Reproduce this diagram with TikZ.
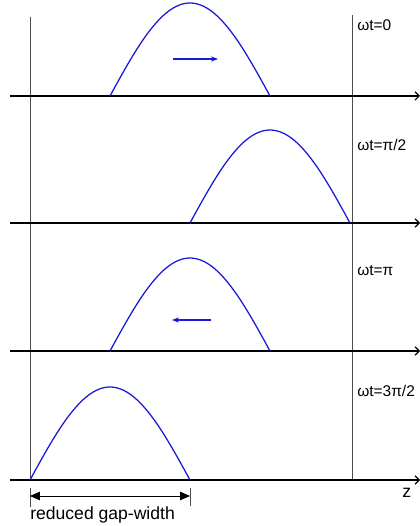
\documentclass[tikz,border=0pt]{standalone}
\usepackage{fontspec}
\setmainfont{Liberation Sans}
\usetikzlibrary{arrows.meta}
\definecolor{wave}{RGB}{25,25,215}
\tikzset{
    axis/.style={-{Straight Barb[length=3pt]}, line width=0.8pt},
    wall/.style={line width=0.5pt, black!70},
    hump/.style={wave, line width=0.9pt},
    drift/.style={-{Stealth[length=5pt]}, wave, line width=1.1pt},
    phase/.style={anchor=west, inner sep=0pt, font=\fontsize{11}{13}\selectfont},
    note/.style={anchor=west, inner sep=0pt, font=\fontsize{12.5}{14}\selectfont},
    gap/.style={{Triangle[length=7pt,width=6pt]}-{Triangle[length=7pt,width=6pt]},
                line width=0.6pt},
    ext/.style={line width=0.4pt, black!70},
}

\begin{document}
\begin{tikzpicture}

    \useasboundingbox (0,0) rectangle (10.5,13.15);

    % the two gap walls
    \coordinate (wallLtop) at (0.75,12.725);
    \coordinate (wallLbot) at (0.75,1.15);
    \coordinate (wallRtop) at (8.8,12.775);
    \coordinate (wallRbot) at (8.8,1.15);
    \draw[wall] (wallLtop) -- (wallLbot);
    \draw[wall] (wallRtop) -- (wallRbot);

    % z axes, one for each phase
    \coordinate (zeroS) at (0.25,10.75);    \coordinate (zeroE) at (10.5,10.75);
    \coordinate (halfS) at (0.25,7.575);    \coordinate (halfE) at (10.5,7.575);
    \coordinate (piS) at (0.25,4.375);      \coordinate (piE) at (10.5,4.375);
    \coordinate (threeS) at (0.25,1.15);    \coordinate (threeE) at (10.5,1.15);
    \draw[axis] (zeroS) -- (zeroE);
    \draw[axis] (halfS) -- (halfE);
    \draw[axis] (piS) -- (piE);
    \draw[axis] (threeS) -- (threeE);

    % field humps
    \draw[hump] plot[domain=0:4, samples=50] ({2.75+\x},{10.75+2.325*sin(45*\x)});
    \draw[hump] plot[domain=0:4, samples=50] ({4.75+\x},{7.575+2.325*sin(45*\x)});
    \draw[hump] plot[domain=0:4, samples=50] ({2.75+\x},{4.375+2.325*sin(45*\x)});
    \draw[hump] plot[domain=0:4, samples=50] ({0.75+\x},{1.15+2.325*sin(45*\x)});

    % direction of motion
    \coordinate (goA) at (4.325,11.675);
    \coordinate (goB) at (5.45,11.675);
    \coordinate (backA) at (5.275,5.15);
    \coordinate (backB) at (4.3,5.15);
    \draw[drift] (goA) -- (goB);
    \draw[drift] (backA) -- (backB);

    % phase labels
    \node[phase] (tZero) at (8.925,12.525) {ωt=0};
    \node[phase] (tHalf) at (8.925,9.525) {ωt=π/2};
    \node[phase] (tPi) at (8.925,6.375) {ωt=π};
    \node[phase] (tThree) at (8.925,3.375) {ωt=3π/2};
    \node[note] (zlabel) at (10.05,0.825) {z};

    % gap width
    \coordinate (gapLt) at (0.75,0.95);
    \coordinate (gapLb) at (0.75,0.475);
    \coordinate (gapRt) at (4.75,0.95);
    \coordinate (gapRb) at (4.75,0.5);
    \draw[ext] (gapLt) -- (gapLb);
    \draw[ext] (gapRt) -- (gapRb);
    \coordinate (gapL) at (0.75,0.75);
    \coordinate (gapR) at (4.75,0.75);
    \draw[gap] (gapL) -- (gapR);
    \node[note] (gapnote) at (0.75,0.275) {reduced gap-width};

\end{tikzpicture}
\end{document}
